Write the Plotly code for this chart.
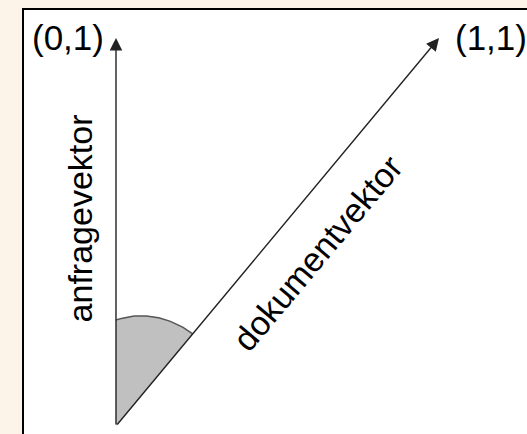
import numpy as np
import plotly.graph_objects as go

# --- data ---
vector_names = ["anfragevektor", "dokumentvektor"]
vector_x = [0, 1]
vector_y = [1, 1]
tip_labels = ["(0,1)", "(1,1)"]

# --- style ---
W, H = 527, 434
BG = "#FCF4E9"
FONT = "Liberation Sans, Arial, sans-serif"
FS = 34
x_range = [-0.3591, 1.2724]
y_range = [-0.0206, 1.0979]

fig = go.Figure()

# shaded angle wedge between the two vectors
a0 = np.arctan2(vector_y[1], vector_x[1])
a1 = np.arctan2(vector_y[0], vector_x[0])
t = np.linspace(a0, a1, 40)
r = 0.336 + (0.273 - 0.336) * (t - a0) / (a1 - a0)
arc_x = r * np.cos(t)
arc_y = r * np.sin(t)
fig.add_trace(go.Scatter(
    x=np.concatenate([[0], arc_x, [0]]), y=np.concatenate([[0], arc_y, [0]]),
    mode="lines", fill="toself", fillcolor="#C0C0C0",
    line=dict(width=0), hoverinfo="skip", showlegend=False))
fig.add_trace(go.Scatter(
    x=arc_x, y=arc_y, mode="lines",
    line=dict(color="#555555", width=1.5), hoverinfo="skip", showlegend=False))

# vectors as arrows
for vx, vy in zip(vector_x, vector_y):
    fig.add_annotation(x=vx, y=vy, ax=0, ay=0, xref="x", yref="y",
                       axref="x", ayref="y", text="", showarrow=True,
                       arrowhead=2, arrowsize=1.8, arrowwidth=1.4,
                       arrowcolor="#222222", standoff=0, startstandoff=0)

# tip labels
fig.add_annotation(x=vector_x[0], y=vector_y[0], text=tip_labels[0], showarrow=False,
                   xanchor="right", yanchor="middle", xshift=-10,
                   font=dict(family=FONT, size=FS + 1, color="black"))
fig.add_annotation(x=vector_x[1], y=vector_y[1], text=tip_labels[1], showarrow=False,
                   xanchor="left", yanchor="middle", xshift=14,
                   font=dict(family=FONT, size=FS + 1, color="black"))

# vector names
frac = 0.535
fig.add_annotation(x=vector_x[0] * frac, y=vector_y[0] * frac, text=vector_names[0],
                   showarrow=False, textangle=-90, xshift=-36,
                   font=dict(family=FONT, size=FS, color="black"))
fig.add_annotation(x=vector_x[1] * frac, y=vector_y[1] * frac, text=vector_names[1],
                   showarrow=False, textangle=-50, xshift=29, yshift=-35,
                   font=dict(family=FONT, size=FS, color="black"))

# white panel with black border
fig.add_shape(type="rect", xref="paper", yref="paper",
              x0=23 / W, x1=1.02, y0=-0.02, y1=1 - 9 / H,
              fillcolor="white", line=dict(color="black", width=2), layer="below")

fig.update_layout(
    width=W, height=H, margin=dict(l=0, r=0, t=0, b=0),
    paper_bgcolor=BG, plot_bgcolor="rgba(0,0,0,0)",
    xaxis=dict(range=x_range, visible=False, fixedrange=True),
    yaxis=dict(range=y_range, visible=False, fixedrange=True),
    showlegend=False,
)

fig.write_html("out.html", config={"displayModeBar": False},
               post_script="document.body.style.margin='0';document.body.style.overflow='hidden';")
